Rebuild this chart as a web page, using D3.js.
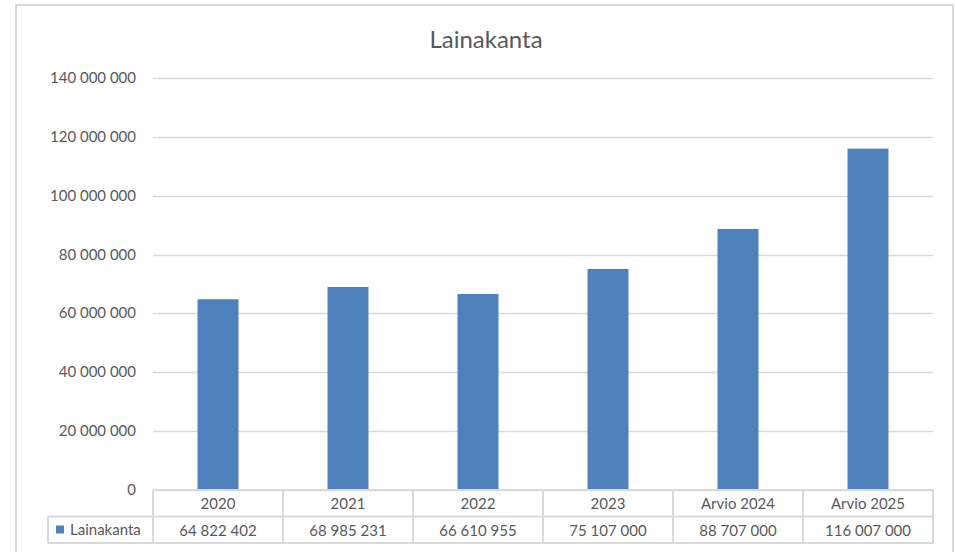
<!DOCTYPE html>
<html>
<head>
<meta charset="utf-8">
<script src="https://cdn.jsdelivr.net/npm/d3@7"></script>
<style>
  body { margin: 0; background: #fff; }
  text { font-family: Lato, "Open Sans", sans-serif; fill: #595959; }
</style>
</head>
<body>
<script>
// data
let categories = ["2020", "2021", "2022", "2023", "Arvio 2024", "Arvio 2025"];
let values = [64822402, 68985231, 66610955, 75107000, 88707000, 116007000];
let seriesName = "Lainakanta";
let yTicks = [0, 20000000, 40000000, 60000000, 80000000, 100000000, 120000000, 140000000];

let W = 955, H = 552;
let margin = {top: 78, right: 22, bottom: 62, left: 153},
    width = W - margin.left - margin.right,
    height = H - margin.top - margin.bottom;

let fmt = function(v) { return d3.format(",")(v).replace(/,/g, "\u00a0"); };

let svg = d3.select("body").append("svg")
    .attr("width", W)
    .attr("height", H);

// chart border
svg.append("rect")
    .attr("x", 16).attr("y", 5)
    .attr("width", 937).attr("height", 560)
    .attr("fill", "none")
    .attr("stroke", "#d9d9d9")
    .attr("stroke-width", 2);

svg.append("text")
    .attr("x", 486).attr("y", 48)
    .attr("text-anchor", "middle")
    .style("font-size", "24px")
    .text(seriesName);

let g = svg.append("g")
    .attr("transform", "translate(" + margin.left + "," + margin.top + ")");

let x = d3.scaleBand()
    .domain(categories)
    .range([0, width])
    .paddingInner(0.685)
    .paddingOuter(0.3425);
let xCell = d3.scaleBand().domain(categories).range([0, width]);
let y = d3.scaleLinear()
    .domain([0, 140000000])
    .range([height, 0]);

// gridlines
g.selectAll(".grid")
    .data(yTicks)
    .enter().append("line")
    .attr("x1", 0).attr("x2", width)
    .attr("y1", function(d) { return Math.round(y(d)) + 0.5; })
    .attr("y2", function(d) { return Math.round(y(d)) + 0.5; })
    .attr("stroke", "#d9d9d9")
    .attr("stroke-width", 1.3);

// y labels
g.selectAll(".ylab")
    .data(yTicks)
    .enter().append("text")
    .attr("x", -17)
    .attr("y", function(d) { return y(d) + 5; })
    .attr("text-anchor", "end")
    .style("font-size", "15px")
    .text(function(d) { return d === 0 ? "0" : fmt(d); });

// bars
g.selectAll(".bar")
    .data(values)
    .enter().append("rect")
    .attr("x", function(d, i) { return x(categories[i]); })
    .attr("width", x.bandwidth())
    .attr("y", function(d) { return y(d); })
    .attr("height", function(d) { return height - y(d); })
    .attr("fill", "#4f81bd");

// data table
let rowH = 26.5;
let tbl = g.append("g").attr("transform", "translate(0," + height + ")");
let lineStyle = function(sel) { return sel.attr("stroke", "#d9d9d9").attr("stroke-width", 2).attr("fill", "none"); };

tbl.append("line").call(lineStyle).attr("x1", 0).attr("x2", width).attr("y1", 0).attr("y2", 0);
tbl.append("line").call(lineStyle).attr("x1", -105).attr("x2", width).attr("y1", rowH).attr("y2", rowH);
tbl.append("line").call(lineStyle).attr("x1", -105).attr("x2", width).attr("y1", rowH * 2).attr("y2", rowH * 2);
tbl.append("line").call(lineStyle).attr("x1", -105).attr("x2", -105).attr("y1", rowH).attr("y2", rowH * 2);
tbl.selectAll(".vl")
    .data(categories.concat(["end"]))
    .enter().append("line").call(lineStyle)
    .attr("x1", function(d, i) { return i * xCell.bandwidth(); })
    .attr("x2", function(d, i) { return i * xCell.bandwidth(); })
    .attr("y1", 0).attr("y2", rowH * 2);

tbl.selectAll(".cat")
    .data(categories)
    .enter().append("text")
    .attr("x", function(d) { return xCell(d) + xCell.bandwidth() / 2; })
    .attr("y", 19)
    .attr("text-anchor", "middle")
    .style("font-size", "15px")
    .text(function(d) { return d; });

tbl.selectAll(".val")
    .data(values)
    .enter().append("text")
    .attr("x", function(d, i) { return xCell(categories[i]) + xCell.bandwidth() / 2; })
    .attr("y", rowH + 19)
    .attr("text-anchor", "middle")
    .style("font-size", "15px")
    .text(function(d) { return fmt(d); });

// legend key
tbl.append("rect")
    .attr("x", -97).attr("y", rowH + 9)
    .attr("width", 8).attr("height", 8)
    .attr("fill", "#4f81bd");
tbl.append("text")
    .attr("x", -83).attr("y", rowH + 18)
    .style("font-size", "15px")
    .text(seriesName);
</script>
</body>
</html>
